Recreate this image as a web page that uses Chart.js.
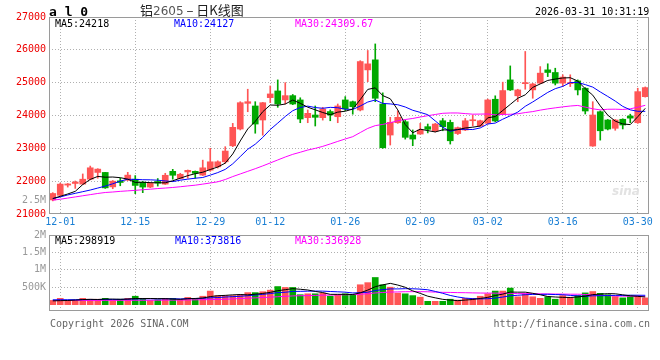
<!DOCTYPE html>
<html><head><meta charset="utf-8">
<script src="https://cdn.jsdelivr.net/npm/chart.js@4/dist/chart.umd.min.js"></script>
<style>
html,body{margin:0;padding:0;background:#fff;}
body{width:660px;height:360px;overflow:hidden;position:relative;font-family:"DejaVu Sans Mono",monospace;}
.t{position:absolute;font-size:10px;line-height:10px;white-space:nowrap;font-family:"DejaVu Sans Mono",monospace;}
canvas{position:absolute;left:0;}
#c1{top:0;}
#c2{top:226px;}
</style></head>
<body>
<canvas id="c1" width="660" height="232"></canvas>
<canvas id="c2" width="660" height="94"></canvas>
<div class="t" style="left:49px;top:5px;font-size:13px;line-height:13px;font-weight:bold;color:#000;">a l 0</div>
<div class="t" style="left:140px;top:3px;font-size:13px;line-height:14px;color:#222;font-family:'Noto Sans CJK SC',sans-serif;">铝<span style="color:#555;font-family:'DejaVu Sans',sans-serif;font-size:12px;">2605</span> – 日K线图</div>
<div class="t" style="left:535px;top:7px;color:#000;">2026-03-31 10:31:19</div>
<div class="t" style="left:55px;top:19px;color:#000;">MA5:24218</div>
<div class="t" style="left:174px;top:19px;color:#0000ff;">MA10:24127</div>
<div class="t" style="left:295px;top:19px;color:#ff00ff;">MA30:24309.67</div>
<div class="t" style="right:614px;top:195px;color:#999;">2.5M</div>
<div class="t" style="left:612px;top:186px;font-size:12px;font-style:italic;font-weight:bold;color:#e2e2e2;font-family:'DejaVu Sans',sans-serif;">sina</div>
<div class="t" style="left:55px;top:236px;color:#000;">MA5:298919</div>
<div class="t" style="left:175px;top:236px;color:#0000ff;">MA10:373816</div>
<div class="t" style="left:295px;top:236px;color:#ff00ff;">MA30:336928</div>
<div class="t" style="left:50px;top:319px;color:#666;">Copyright 2026 SINA.COM</div>
<div class="t" style="right:10px;top:319px;color:#666;">http://finance.sina.com.cn</div>
<script>
// ---- data ----
const dates = ['11-28','12-01','12-02','12-03','12-04','12-05','12-08','12-09','12-10','12-11','12-12','12-15','12-16','12-17','12-18','12-19','12-22','12-23','12-24','12-25','12-26','12-29','12-30','12-31','01-05','01-06','01-07','01-08','01-09','01-12','01-13','01-14','01-15','01-16','01-19','01-20','01-21','01-22','01-23','01-26','01-27','01-28','01-29','01-30','02-02','02-03','02-04','02-05','02-06','02-09','02-10','02-11','02-12','02-13','02-24','02-25','02-26','02-27','03-02','03-03','03-04','03-05','03-06','03-09','03-10','03-11','03-12','03-13','03-16','03-17','03-18','03-19','03-20','03-23','03-24','03-25','03-26','03-27','03-30','03-31'];
const axisDates = ['12-01','12-15','12-29','01-12','01-26','02-09','03-02','03-16','03-30'];
const opens  = [21430,21570,21880,21930,21910,22060,22266,22266,21826,22010,22031,22060,21970,21820,21990,21910,22300,22080,22280,22300,22184,22336,22437,22590,23078,23588,24370,24290,23863,24544,24748,24474,24605,24474,23933,24015,23933,24120,23963,24474,24420,24168,25389,25695,24350,23405,23780,23810,23405,23435,23660,23527,23840,23790,23450,23558,23840,23680,23763,24495,24040,25084,24600,24970,24780,24985,25390,25310,24985,24970,25054,24830,23070,24115,23863,23610,23885,23985,23780,24574];
const highs  = [21650,21940,21930,22005,22220,22460,22380,22270,22020,22090,22270,22170,21990,21960,22080,22240,22360,22240,22340,22310,22640,23000,22620,23050,23760,24420,24800,24420,24400,24900,25084,25000,24640,24540,24170,24290,24250,24170,24350,24575,24440,25670,25980,26180,24690,23945,24140,23860,23560,23760,23740,23760,23910,23860,23650,23910,24015,23860,24500,24600,25015,25510,24800,25950,24980,25490,25575,25440,25240,25240,25085,24850,24420,24140,23880,23880,23900,24040,24830,24870];
const lows   = [21400,21550,21820,21780,21900,22040,22090,21780,21770,21860,22020,21620,21650,21800,21850,21900,22060,22070,22090,22090,22170,22300,22400,22540,23050,23560,24115,23460,23400,24390,24250,24350,24330,23780,23780,23680,23860,23840,23780,24150,24040,24140,25030,24420,23000,23100,23760,23280,23080,23430,23470,23500,23535,23130,23420,23540,23680,23660,23740,23810,24030,24760,24420,24800,24525,24970,25185,24930,24880,24880,24626,24045,23060,23250,23560,23550,23590,23780,23760,24560];
const closes = [21625,21910,21915,21975,22060,22407,22367,21796,22000,21960,22184,21870,21820,21940,21940,22180,22180,22210,22330,22240,22407,22590,22590,22917,23640,24390,24420,23740,24390,24657,24351,24605,24350,23893,24067,23945,24200,24015,24290,24200,24270,25643,25573,24525,23018,23793,23945,23335,23283,23558,23580,23740,23660,23230,23630,23840,23860,23840,24474,23833,24760,24779,24779,25000,24960,25290,25310,24985,25170,25000,24779,24137,24015,23535,23588,23863,23710,23920,24727,24850];
const ma5  = [21470,21540,21610,21690,21897,22053,22145,22121,22126,22106,22061,21962,21967,21955,21951,21950,22012,22090,22168,22228,22273,22355,22431,22549,22829,23225,23591,23821,24116,24319,24312,24349,24471,24371,24253,24172,24091,24024,24103,24130,24195,24484,24795,24842,24606,24510,24171,23723,23475,23583,23540,23499,23564,23554,23568,23620,23644,23680,23929,23969,24153,24337,24525,24630,24856,24962,25068,25109,25143,25151,25049,24814,24620,24293,24011,23828,23742,23723,23962,24218];
const ma10 = [21470,21520,21580,21630,21680,21730,21790,21850,21920,22002,22057,22054,22044,22041,22029,22006,21987,22029,22062,22090,22112,22184,22261,22359,22529,22749,22973,23126,23333,23574,23769,23970,24146,24244,24286,24242,24220,24248,24237,24192,24184,24288,24410,24473,24368,24353,24328,24259,24159,24095,24025,23835,23644,23515,23576,23580,23572,23622,23742,23769,23887,23991,24103,24280,24413,24558,24703,24817,24887,25004,25006,24941,24865,24718,24581,24439,24278,24172,24128,24127];
const ma30 = [21420,21450,21485,21520,21555,21590,21625,21655,21670,21690,21705,21720,21740,21755,21775,21790,21808,21830,21855,21878,21910,21945,21980,22050,22140,22220,22300,22380,22465,22555,22646,22736,22817,22881,22948,22999,23060,23134,23211,23285,23355,23481,23606,23692,23728,23781,23840,23878,23910,23954,23993,24031,24067,24077,24077,24058,24040,24043,24046,24019,24032,24038,24052,24089,24119,24164,24201,24233,24263,24289,24306,24256,24204,24171,24190,24192,24184,24204,24252,24310];
const volume = [122000,182000,122000,122000,182000,156000,156000,182000,122000,156000,182000,242000,182000,122000,138000,182000,182000,138000,208000,182000,242000,390000,260000,260000,260000,286000,346000,346000,372000,416000,520000,494000,494000,286000,312000,312000,330000,242000,286000,312000,286000,572000,632000,780000,572000,502000,330000,312000,260000,216000,96000,96000,96000,156000,130000,182000,182000,242000,312000,390000,390000,476000,226000,312000,226000,182000,226000,156000,260000,208000,260000,338000,377000,325000,286000,234000,195000,234000,247000,195000];
const volMa5  = [110000,115000,120000,130000,146000,153000,148000,160000,160000,154000,160000,177000,177000,177000,173000,173000,161000,152000,170000,178000,190000,232000,256000,267000,282000,291000,282000,300000,322000,353000,400000,430000,459000,442000,421000,380000,347000,296000,296000,296000,291000,340000,418000,516000,568000,612000,563000,499000,395000,324000,243000,196000,153000,132000,115000,132000,149000,178000,210000,262000,303000,362000,359000,359000,326000,284000,234000,220000,210000,206000,222000,244000,289000,302000,317000,312000,283000,255000,239000,221000];
const volMa10 = [140000,141000,142000,143000,145000,147000,148000,149000,150000,150000,157000,163000,169000,169000,164000,167000,169000,165000,174000,176000,182000,197000,204000,219000,230000,241000,257000,278000,295000,318000,346000,356000,380000,382000,387000,390000,389000,378000,369000,359000,336000,344000,357000,406000,432000,452000,452000,459000,456000,446000,428000,380000,326000,264000,220000,188000,173000,166000,171000,189000,218000,256000,269000,285000,294000,294000,298000,290000,285000,266000,253000,239000,255000,256000,262000,267000,264000,272000,271000,269000];
const volMa30 = [120000,120000,121000,121000,122000,122000,123000,123000,124000,124000,125000,125000,126000,127000,128000,129000,130000,132000,135000,138000,142000,146000,150000,155000,165000,175000,185000,195000,205000,215000,228000,239000,251000,257000,260000,266000,272000,274000,279000,284000,288000,299000,314000,336000,350000,361000,366000,372000,373000,374000,370000,360000,354000,351000,346000,343000,338000,334000,332000,331000,327000,327000,317000,318000,315000,311000,308000,305000,304000,300000,300000,292000,283000,268000,259000,250000,245000,243000,242000,241000];
const priceTicks = [21000,22000,23000,24000,25000,26000,27000];
const volTicks = [500000,1000000,1500000,2000000];

// ---- styles ----
const RED = '#ff5555', GREEN = '#00a800', GRID = '#b0b0b0', FRAME = '#9a9a9a';
const MONO = {family:'DejaVu Sans Mono', size:10};
const candleColor = closes.map((c,i)=> c >= opens[i] ? RED : GREEN);

const frame = {
  id:'frame',
  afterDraw(chart){
    const {ctx, chartArea:a} = chart;
    ctx.save();
    ctx.strokeStyle = FRAME; ctx.lineWidth = 1;
    ctx.strokeRect(Math.round(a.left)+0.5, Math.round(a.top)+0.5, Math.round(a.right-a.left)-1, Math.round(a.bottom-a.top)-1);
    ctx.restore();
  }
};
const xGridColor = ctx => (ctx.index !== undefined && axisDates.includes(dates[ctx.index])) ? GRID : 'rgba(0,0,0,0)';
const line = (data,color)=>({type:'line', data, borderColor:color, borderWidth:1, pointRadius:0, tension:0, order:0});

new Chart(document.getElementById('c1'), {
  type:'bar',
  data:{
    labels: dates,
    datasets:[
      line(ma5,'#000000'), line(ma10,'#0000ff'), line(ma30,'#ff00ff'),
      {type:'bar', data: dates.map((d,i)=>[lows[i],highs[i]]), backgroundColor:candleColor, barThickness:1, grouped:false, order:2},
      {type:'bar', data: dates.map((d,i)=>[opens[i],closes[i]]), backgroundColor:candleColor, barThickness:6, minBarLength:1, grouped:false, order:1}
    ]
  },
  options:{
    responsive:false, animation:false, maintainAspectRatio:false,
    layout:{padding:{top:17,right:11,left:0,bottom:0}},
    plugins:{legend:{display:false}, tooltip:{enabled:false}},
    scales:{
      x:{type:'category', offset:true,
         grid:{offset:false, drawTicks:false, color:xGridColor, lineWidth:1},
         border:{display:false, dash:[1,2]},
         ticks:{autoSkip:false, maxRotation:0, minRotation:0, padding:2, color:'#1a7fd4', font:MONO,
                callback:(v,i)=> axisDates.includes(dates[i]) ? dates[i] : ''},
         afterFit:s=>{s.height=18;}},
      y:{type:'linear', min:21000, max:27000,
         afterBuildTicks:s=>{s.ticks = priceTicks.map(v=>({value:v}));},
         ticks:{color:'#ee0000', padding:3, font:MONO, callback:v=> String(v)},
         grid:{drawTicks:false, color:ctx=> (ctx.tick && ctx.tick.value>21000 && ctx.tick.value<27000) ? GRID : 'rgba(0,0,0,0)'},
         border:{display:false, dash:[1,2]},
         afterFit:s=>{s.width=49;}}
    }
  },
  plugins:[frame]
});

new Chart(document.getElementById('c2'), {
  type:'bar',
  data:{
    labels: dates,
    datasets:[
      line(volMa5,'#000000'), line(volMa10,'#0000ff'), line(volMa30,'#ff00ff'),
      {type:'bar', data: volume, backgroundColor:candleColor, barThickness:6, order:1}
    ]
  },
  options:{
    responsive:false, animation:false, maintainAspectRatio:false,
    layout:{padding:{top:8,right:11,left:0,bottom:0}},
    plugins:{legend:{display:false}, tooltip:{enabled:false}},
    scales:{
      x:{type:'category', offset:true,
         grid:{offset:false, drawTicks:false, color:xGridColor},
         border:{display:false, dash:[1,2]},
         ticks:{display:false, autoSkip:false},
         afterFit:s=>{s.height=2;}},
      y:{type:'linear', min:-182000, max:2000000,
         afterBuildTicks:s=>{s.ticks = volTicks.map(v=>({value:v}));},
         ticks:{color:'#999999', padding:3, font:MONO,
                callback:v=> v>=1000000 ? (v/1000000)+'M' : (v/1000)+'K'},
         grid:{drawTicks:false, color:ctx=> (ctx.tick && ctx.tick.value<2000000) ? GRID : 'rgba(0,0,0,0)'},
         border:{display:false, dash:[1,2]},
         afterFit:s=>{s.width=49;}}
    }
  },
  plugins:[frame]
});
</script>
</body></html>
